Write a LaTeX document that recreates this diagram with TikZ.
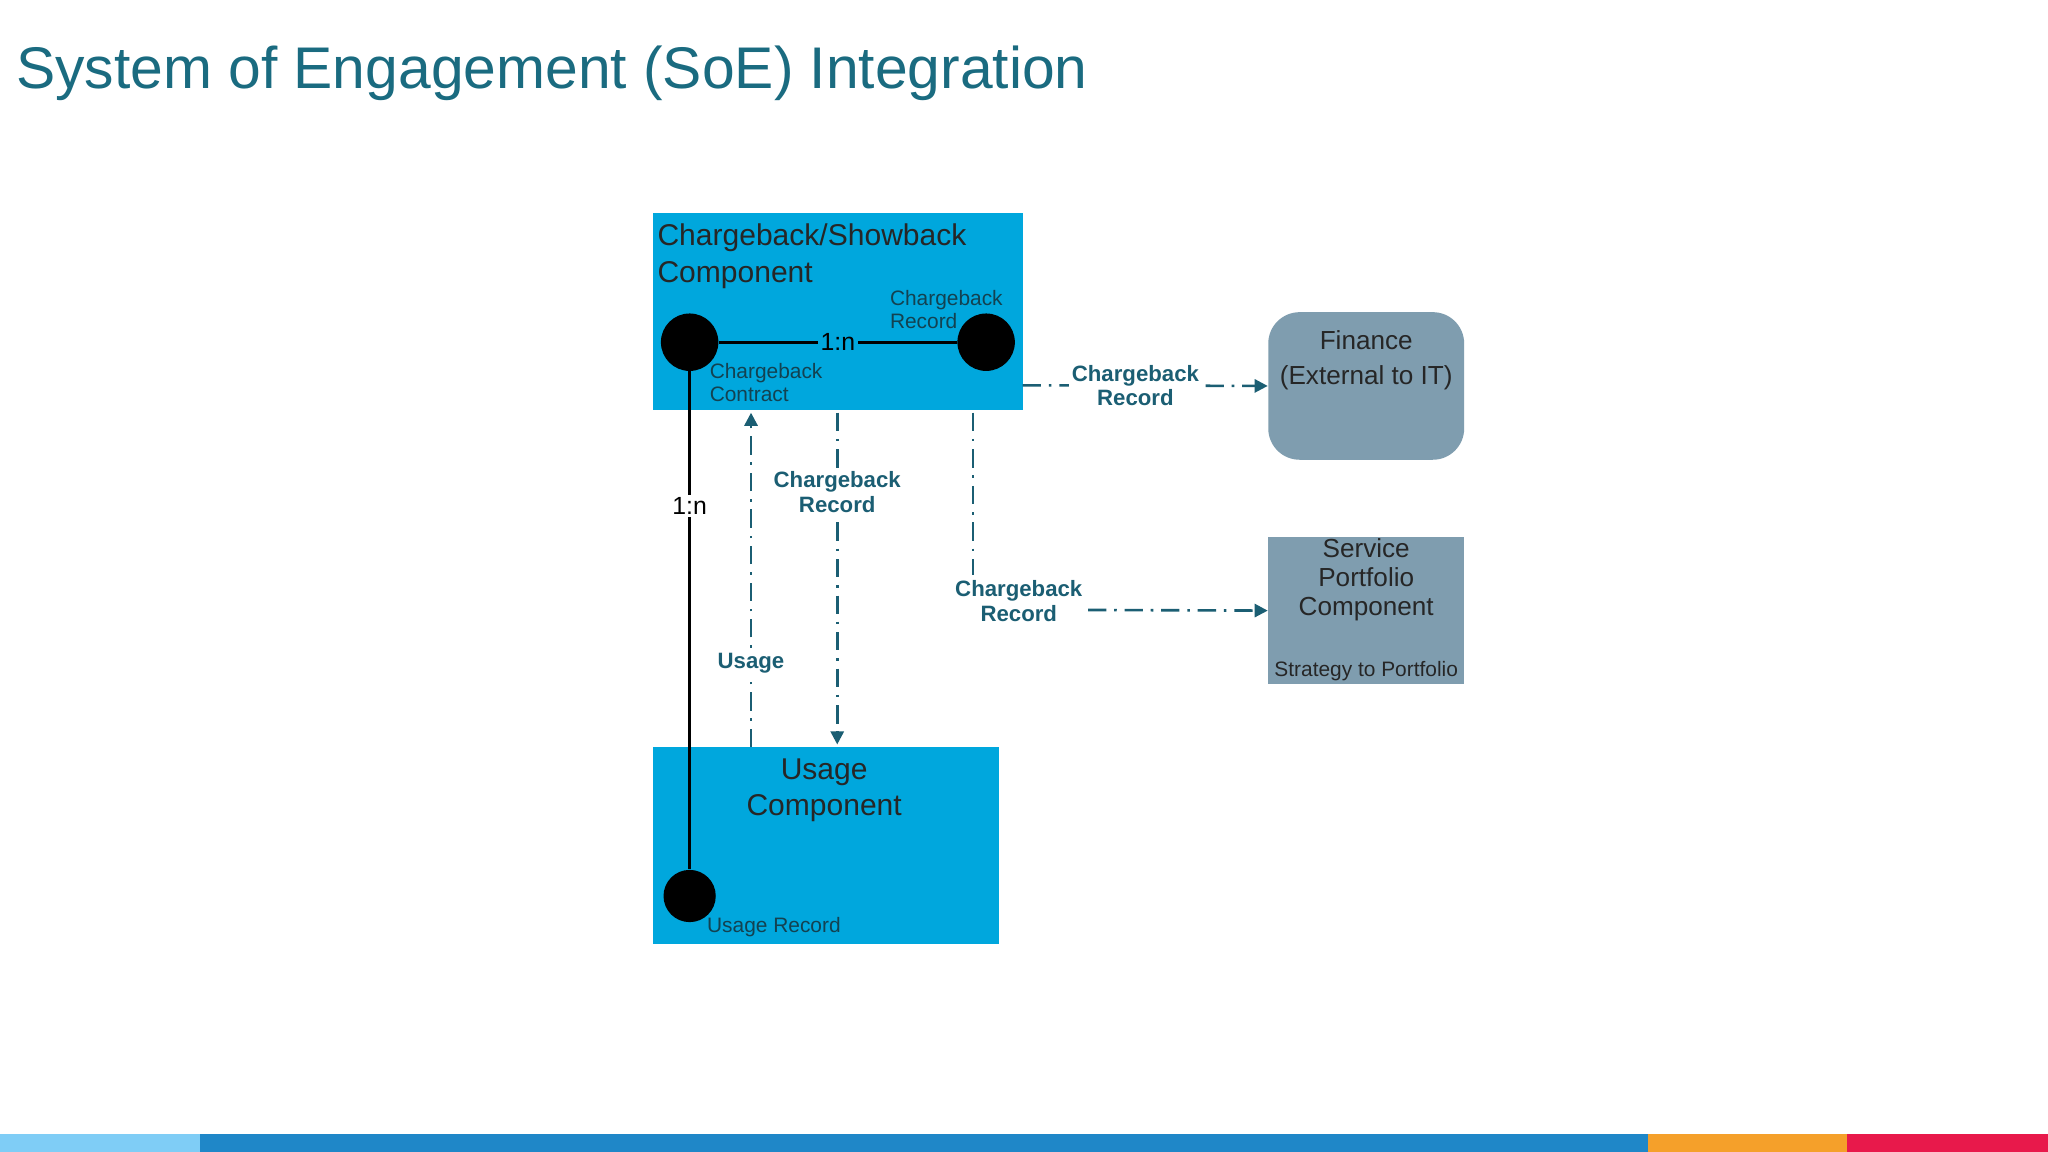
\documentclass[tikz,border=0pt]{standalone}
\usepackage{fontspec}
\setmainfont{Liberation Sans}
\usetikzlibrary{arrows.meta}
\definecolor{title}{HTML}{1A6B80}
\definecolor{cyanbox}{HTML}{00A7DD}
\definecolor{graybox}{HTML}{7F9DAF}
\definecolor{teal}{HTML}{1B5E73}
\definecolor{bA}{HTML}{7FCDF6}
\definecolor{bB}{HTML}{1F87C8}
\definecolor{bC}{HTML}{F5A02A}
\definecolor{bD}{HTML}{E8194B}
\begin{document}
\begin{tikzpicture}[x=0.5pt,y=-0.5pt,
  lbl/.style={font=\fontsize{8.5}{9.5}\selectfont\bfseries,text=teal,align=center,inner sep=1pt,fill=white},
  small/.style={font=\fontsize{8}{9}\selectfont,text=teal!70!black,align=left,inner sep=0pt,anchor=west},
  flow/.style={teal,line width=1pt,dash pattern=on 7pt off 3pt on 1pt off 3pt,-{Triangle[length=5pt,width=5pt]}},
  flowplain/.style={teal,line width=1pt,dash pattern=on 7pt off 3pt on 1pt off 3pt},
  dot/.style={circle,fill=black,inner sep=0pt},
  boxtxt/.style={font=\fontsize{11.5}{14}\selectfont,text=black!85}]
\useasboundingbox (0,0) rectangle (1568,882);
\fill[white] (0,0) rectangle (1568,882);
\node[anchor=base west,text=title,font=\fontsize{22.5}{26}\selectfont,inner sep=0pt] (title) at (12,68) {System of Engagement (SoE) Integration};
% boxes
\fill[cyanbox] (500,163) rectangle (783,314);
\coordinate (cbN) at (641,163);
\fill[cyanbox] (500,572) rectangle (765,723);
\node[anchor=west,boxtxt,align=left,inner sep=0pt] (cbt) at (503,196) {Chargeback/Showback\\Component};
\node[boxtxt,align=center,inner sep=0pt] (ut) at (631,605) {Usage\\Component};
\node[fill=graybox,rounded corners=12pt,minimum width=75pt,minimum height=56.5pt,inner sep=0pt] (fin) at (1046,295.5) {};
\node[boxtxt,font=\fontsize{10}{13.5}\selectfont,align=center] at (1046,276) {Finance\\(External to IT)};
\node[fill=graybox,minimum width=75pt,minimum height=56.5pt,inner sep=0pt] (svc) at (1046,467.5) {};
\node[boxtxt,font=\fontsize{10}{11}\selectfont,align=center] at (1046,444) {Service\\Portfolio\\Component};
\node[font=\fontsize{8}{9}\selectfont,text=black!85,inner sep=0pt] at (1046,514) {Strategy to Portfolio};
% dots
\node[dot,minimum size=22pt] (d1) at (528,262) {};
\node[dot,minimum size=22pt] (d2) at (755,262) {};
\node[dot,minimum size=20pt] (d3) at (528,686) {};
\draw[line width=1.3pt] (d1) -- node[fill=cyanbox,inner sep=1pt,font=\fontsize{9.5}{10}\selectfont] {1:n} (d2);
\draw[line width=1.3pt] (d1) -- node[pos=0.27,fill=white,inner sep=1pt,font=\fontsize{9.5}{10}\selectfont] {1:n} (d3);
\node[small] at (681,237) {Chargeback\\Record};
\node[small] at (543,293) {Chargeback\\Contract};
\node[small] at (541,710) {Usage Record};
% flows
\coordinate (u0) at (575,572); \coordinate (u1) at (575,316);
\draw[flow] (u0) -- node[lbl,pos=0.25] {Usage} (u1);
\coordinate (c0) at (641,316); \coordinate (c1) at (641,570);
\draw[flow] (c0) -- node[lbl,pos=0.24] {Chargeback\\Record} (c1);
\coordinate (f0) at (783,295);
\draw[flow] (f0) -- node[lbl,pos=0.46] {Chargeback\\Record} (fin.west);
\coordinate (s0) at (745,316); \coordinate (s1) at (745,440);
\draw[flowplain] (s0) -- (s1);
\node[lbl] (slbl) at (780,460) {Chargeback\\Record};
\coordinate (s2) at (833,467);
\draw[flow] (s2) -- (svc.west);
% bottom bar
\fill[bA] (0,868) rectangle (153,882);
\fill[bB] (153,868) rectangle (1262,882);
\fill[bC] (1262,868) rectangle (1414,882);
\fill[bD] (1414,868) rectangle (1568,882);
\end{tikzpicture}
\end{document}
